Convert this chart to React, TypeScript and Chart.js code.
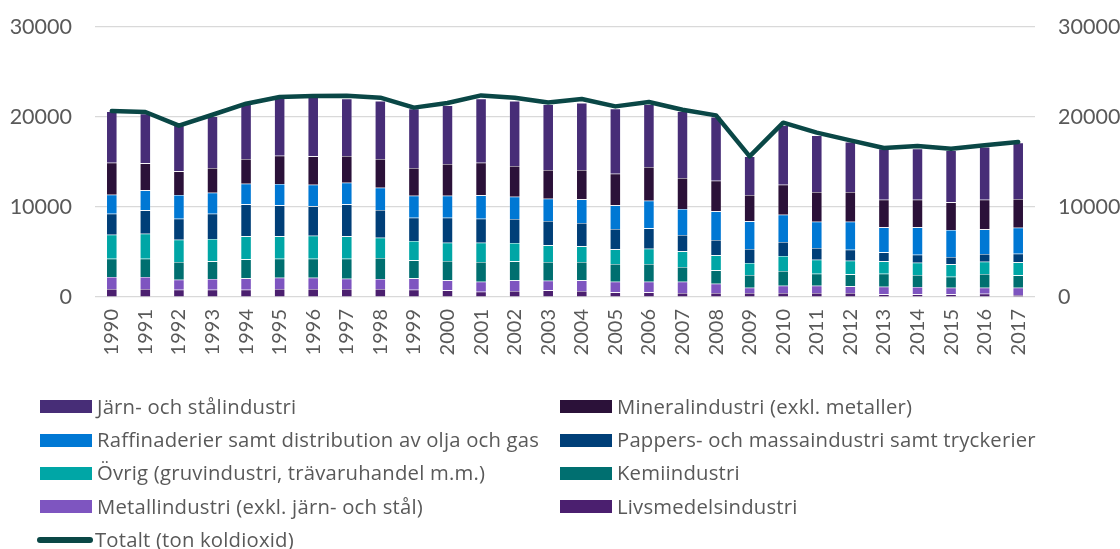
import React, { useEffect, useRef } from 'react';
import { Chart, registerables } from 'chart.js';

Chart.register(...registerables);

const years = ['1990','1991','1992','1993','1994','1995','1996','1997','1998','1999','2000','2001','2002','2003','2004','2005','2006','2007','2008','2009','2010','2011','2012','2013','2014','2015','2016','2017'];

const livs = [889, 889, 815, 815, 815, 889, 889, 889, 889, 815, 741, 593, 667, 741, 667, 519, 519, 444, 444, 444, 444, 444, 444, 296, 296, 296, 370, 222];
const metall = [1333, 1333, 1111, 1185, 1259, 1259, 1259, 1148, 1111, 1259, 1111, 1111, 1185, 1074, 1185, 1185, 1185, 1260, 1037, 593, 815, 815, 741, 852, 815, 741, 667, 815];
const kemi = [2037, 2037, 1963, 1963, 2111, 2111, 2111, 2222, 2333, 2000, 2148, 2185, 2111, 2074, 2037, 1963, 1963, 1629, 1482, 1407, 1630, 1334, 1334, 1445, 1333, 1222, 1519, 1370];
const ovrig = [2667, 2778, 2481, 2481, 2556, 2482, 2556, 2482, 2260, 2148, 2037, 2148, 2037, 1852, 1741, 1629, 1703, 1741, 1667, 1334, 1667, 1555, 1518, 1370, 1371, 1371, 1370, 1445];
const papp = [2333, 2593, 2333, 2815, 3555, 3444, 3259, 3555, 3074, 2593, 2778, 2667, 2667, 2703, 2592, 2260, 2260, 1815, 1703, 1555, 1555, 1296, 1222, 1000, 889, 814, 852, 963];
const raff = [2111, 2222, 2630, 2333, 2297, 2371, 2407, 2408, 2481, 2444, 2444, 2592, 2481, 2482, 2630, 2629, 3074, 2889, 3186, 3074, 3037, 2926, 3111, 2778, 3037, 3000, 2741, 2889];
const mineral = [3556, 3000, 2630, 2741, 2740, 3148, 3149, 2963, 3185, 3074, 3519, 3630, 3408, 3185, 3259, 3519, 3740, 3444, 3407, 2926, 3333, 3297, 3297, 3074, 3074, 3075, 3296, 3185];
const jarn = [5704, 5519, 5333, 5741, 6148, 6518, 6666, 6370, 6445, 6593, 6518, 7111, 7222, 7296, 7445, 7222, 6963, 7408, 7074, 4297, 6593, 6296, 5555, 5666, 5666, 5777, 5852, 6259];
const total = [20670, 20560, 19040, 20250, 21480, 22220, 22330, 22350, 22150, 21040, 21550, 22400, 22150, 21600, 22000, 21180, 21670, 20800, 20180, 15630, 19370, 18260, 17400, 16550, 16780, 16480, 16850, 17220];

const yTicks = [0, 10000, 20000, 30000];

const TEXT = '#595959';
const FONT = 'Lato, "Open Sans", sans-serif';
const LEGEND_FONT = '"Open Sans", Lato, sans-serif';

const C = {
  jarn: '#472D77',
  mineral: '#2B1139',
  raff: '#0078D4',
  papp: '#003F78',
  ovrig: '#00A6A6',
  kemi: '#006F70',
  metall: '#7E55C0',
  livs: '#4B1F6F',
  total: '#0A4746',
};

const legendItems: { label: string; color: string; col: number; row: number; line?: boolean }[] = [
  { label: 'Järn- och stålindustri', color: C.jarn, col: 0, row: 0 },
  { label: 'Mineralindustri (exkl. metaller)', color: C.mineral, col: 1, row: 0 },
  { label: 'Raffinaderier samt distribution av olja och gas', color: C.raff, col: 0, row: 1 },
  { label: 'Pappers- och massaindustri samt tryckerier', color: C.papp, col: 1, row: 1 },
  { label: 'Övrig (gruvindustri, trävaruhandel m.m.)', color: C.ovrig, col: 0, row: 2 },
  { label: 'Kemiindustri', color: C.kemi, col: 1, row: 2 },
  { label: 'Metallindustri (exkl. järn- och stål)', color: C.metall, col: 0, row: 3 },
  { label: 'Livsmedelsindustri', color: C.livs, col: 1, row: 3 },
  { label: 'Totalt (ton koldioxid)', color: C.total, col: 0, row: 4, line: true },
];

export default function App() {
  const ref = useRef<HTMLCanvasElement>(null);

  useEffect(() => {
    const canvas = ref.current;
    if (!canvas) return;
    const bar = (label: string, data: number[], color: string) => ({
      type: 'bar' as const,
      label,
      data,
      backgroundColor: color,
      borderColor: 'rgba(255,255,255,0.35)',
      borderWidth: 0.6,
      stack: 'bars',
      order: 1,
      barPercentage: 0.32,
      categoryPercentage: 1,
    });
    const xFont = { family: FONT, size: 20 };
    const yFont = { family: FONT, size: 21.5 };
    const chart = new Chart(canvas, {
      type: 'bar',
      data: {
        labels: years,
        datasets: [
          {
            type: 'line' as const,
            label: 'Totalt (ton koldioxid)',
            data: total,
            borderColor: C.total,
            backgroundColor: C.total,
            borderWidth: 4.5,
            pointRadius: 0,
            tension: 0,
            fill: false,
            stack: 'total',
            order: 0,
            borderCapStyle: 'round',
            borderJoinStyle: 'round',
          } as any,
          bar('Livsmedelsindustri', livs, C.livs),
          bar('Metallindustri (exkl. järn- och stål)', metall, C.metall),
          bar('Kemiindustri', kemi, C.kemi),
          bar('Övrig (gruvindustri, trävaruhandel m.m.)', ovrig, C.ovrig),
          bar('Pappers- och massaindustri samt tryckerier', papp, C.papp),
          bar('Raffinaderier samt distribution av olja och gas', raff, C.raff),
          bar('Mineralindustri (exkl. metaller)', mineral, C.mineral),
          bar('Järn- och stålindustri', jarn, C.jarn),
        ],
      },
      options: {
        responsive: false,
        animation: false,
        layout: { padding: { top: 27, left: 0, right: 0, bottom: 0 } },
        plugins: { legend: { display: false }, tooltip: { enabled: false } },
        scales: {
          x: {
            stacked: true,
            grid: { display: false },
            border: { display: false },
            ticks: {
              color: TEXT,
              font: xFont,
              minRotation: 90,
              maxRotation: 90,
              autoSkip: false,
              padding: 4,
            },
            afterFit: (s: any) => { s.height = 549 - 297; },
          },
          y: {
            stacked: true,
            min: 0,
            max: 30000,
            afterBuildTicks: (s: any) => { s.ticks = yTicks.map((v) => ({ value: v })); },
            ticks: { color: TEXT, font: yFont, padding: 23, callback: (v: any) => String(v) },
            grid: { color: '#D9D9D9', lineWidth: 1.2, drawTicks: false },
            border: { display: false },
            afterFit: (s: any) => { s.width = 95; s.paddingTop = 0; s.paddingBottom = 0; },
          },
          y2: {
            position: 'right',
            min: 0,
            max: 30000,
            afterBuildTicks: (s: any) => { s.ticks = yTicks.map((v) => ({ value: v })); },
            ticks: { color: TEXT, font: yFont, padding: 23, callback: (v: any) => String(v) },
            grid: { display: false, drawTicks: false },
            border: { display: false },
            afterFit: (s: any) => { s.width = 1120 - 1035; s.paddingTop = 0; s.paddingBottom = 0; },
          },
        },
      } as any,
    });
    return () => chart.destroy();
  }, []);

  const rowY = [406.7, 440, 473.3, 506.7, 540];
  return (
    <div style={{ position: 'absolute', left: 0, top: 0, width: 1120, height: 549, background: '#fff', overflow: 'hidden' }}>
      <canvas ref={ref} width={1120} height={549} style={{ position: 'absolute', left: 0, top: 0, width: 1120, height: 549 }} />
      {legendItems.map((it) => {
        const sx = it.col === 0 ? 40 : 560;
        const cy = rowY[it.row];
        return (
          <div key={it.label} style={{ position: 'absolute', left: sx - 3, top: cy - 15, height: 30, display: 'flex', alignItems: 'center', whiteSpace: 'nowrap' }}>
            {it.line ? (
              <span style={{ display: 'inline-block', width: 56, height: 6, borderRadius: 3, background: it.color, marginRight: 2 }} />
            ) : (
              <span style={{ display: 'inline-block', width: 52, height: 13, background: it.color, marginLeft: 3, marginRight: 5 }} />
            )}
            <span style={{ fontFamily: LEGEND_FONT, fontSize: 20.3, letterSpacing: '0.2px', color: TEXT, lineHeight: '30px', position: 'relative', top: -1 }}>{it.label}</span>
          </div>
        );
      })}
    </div>
  );
}
